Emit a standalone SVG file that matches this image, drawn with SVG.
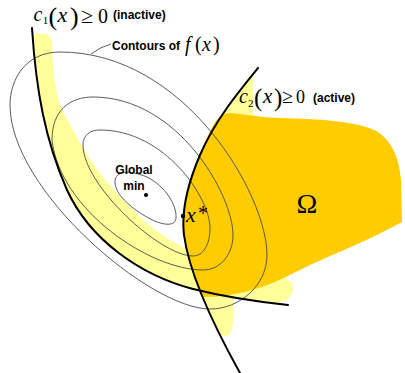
<svg xmlns="http://www.w3.org/2000/svg" width="405" height="373" viewBox="0 0 405 373">
<style>
.lite{fill:#ffff99;stroke:none}
.omega{fill:#ffcc00;stroke:none}
.contour{fill:none;stroke:#4a4a4a;stroke-width:0.9}
.con{fill:none;stroke:#000;stroke-width:2;stroke-linecap:round}
.lbl{font-family:"Liberation Sans",Arial,sans-serif;font-weight:bold;font-size:12px;fill:#000}
.m{font-family:"Liberation Serif","Times New Roman",serif;fill:#000}
.mi{font-family:"Liberation Serif","Times New Roman",serif;font-style:italic;fill:#000}
</style>
<rect width="405" height="373" fill="#fff"/>
<g id="regions">
<path class="lite" d="M33,40 C34,30 40,34 44,34 C50,34 52,38 52,45 C52,65 55,88 60,105 C70,125 90,165 117,193 C140,218 160,238 190,250 C220,262 250,270 275,275 C288,278 294,282 293,290 C292,298 285,302 275,303 C255,301 225,297 193,289 C140,275 90,240 67,190 C45,140 36,90 33,40 Z"/>
<path class="lite" d="M201,292 L233,296 C234,310 234,322 231,332 C229,337 224,337 220,334 L213,321 L206,305 Z"/>
<path class="lite" d="M259,67 L253,71 L253,122 L216,124 L230,105 L241,91 Z"/>
<path id="omega-region" class="omega" d="M216,121 C220,116 224,113 230,113 C245,114 255,117 280,118 C320,119 350,121 372,129 C390,137 399,155 401,180 L402,222 C370,240 330,255 300,270 C280,280 265,287 245,292 C232,295 218,297 203,297 C193,275 186,255 184,235 C181,210 188,183 200,155 C205,142 210,130 216,121 Z"/>
</g>
<g id="contours">
<path class="contour" d="M60,52 C185,52 267,195 267,255 C267,285 240,309 210,309 C150,309 10,190 10,105 C10,80 25,52 60,52 Z"/>
<path class="contour" d="M93,97 C178,97 233,195 233,235 C233,255 220,270 203,270 C150,270 60,210 52,140 C52,110 70,97 93,97 Z"/>
<path class="contour" d="M100,130 C165,130 210,198 210,228 C210,245 203,256 193,256 C160,256 83,185 83,145 C83,135 90,130 100,130 Z"/>
<path class="contour" d="M115,182 C115,170 130,170 147,177 C165,186 177,205 176,218 C175,228 160,225 145,216 C130,207 115,194 115,182 Z"/>
<path class="contour" d="M111,44 Q100,47 91,54"/>
</g>
<g id="connectors">
<path id="c1" class="con" d="M32,28 C36,90 45,140 67,190 C90,240 140,275 193,289 C225,297 260,302 288,305"/>
<path id="c2" class="con" d="M258,68 C240,90 215,120 200,155 C188,183 181,210 184,235 C188,265 205,310 240,373"/>
</g>
<g id="global-min">
<circle cx="146" cy="195" r="2" fill="#000"/>
<text class="lbl" x="134" y="174" text-anchor="middle">Global</text>
<text class="lbl" x="134" y="190" text-anchor="middle">min</text>
</g>
<g id="xstar">
<circle cx="183" cy="216" r="2.2" fill="#000"/>
<text class="mi" x="186" y="222" font-size="22">x</text>
<text class="m" x="198" y="220" font-size="20">*</text>
</g>
<g id="omega-label">
<text class="m" x="307" y="213" font-size="28" text-anchor="middle">Ω</text>
</g>
<g id="label-c1">
<text class="mi" x="33.5" y="21" font-size="20">c</text>
<text class="m" x="42.8" y="24" font-size="11">1</text>
<text class="m" x="48.5" y="25" font-size="26">(</text>
<text class="mi" x="57.5" y="22" font-size="22">x</text>
<text class="m" x="70" y="25" font-size="26">)</text>
<text class="m" x="81" y="23" font-size="22">≥</text>
<text class="m" x="98" y="23" font-size="20">0</text>
<text class="lbl" x="113" y="19">(inactive)</text>
</g>
<g id="label-contours">
<text class="lbl" x="112" y="50">Contours of</text>
<text class="mi" x="185" y="51" font-size="20">f</text>
<text class="m" x="195" y="51" font-size="20">(</text>
<text class="mi" x="202" y="51" font-size="20">x</text>
<text class="m" x="213" y="51" font-size="20">)</text>
</g>
<g id="label-c2">
<text class="mi" x="239" y="103" font-size="20">c</text>
<text class="m" x="248" y="107" font-size="11">2</text>
<text class="m" x="254" y="106" font-size="25">(</text>
<text class="mi" x="263" y="103" font-size="21">x</text>
<text class="m" x="274" y="106" font-size="25">)</text>
<text class="m" x="282" y="103" font-size="20">≥</text>
<text class="m" x="296" y="103" font-size="18">0</text>
<text class="lbl" x="313" y="102">(active)</text>
</g>
</svg>
